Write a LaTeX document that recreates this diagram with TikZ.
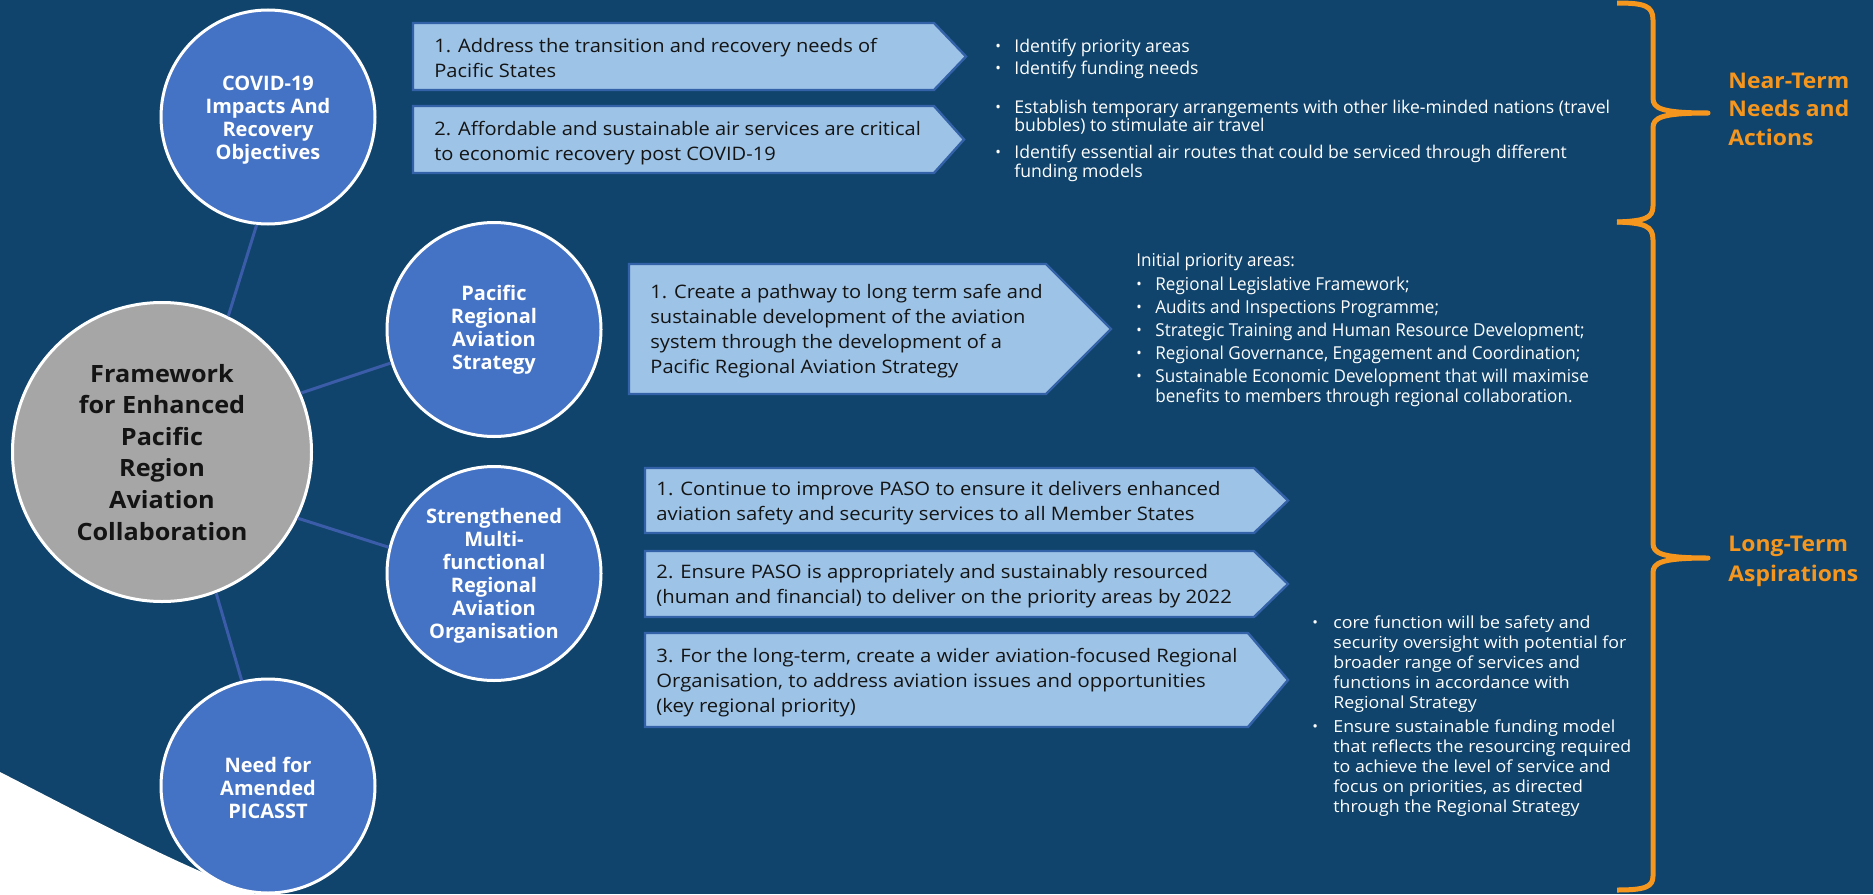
\documentclass[tikz,border=0pt]{standalone}
\usepackage{fontspec}
\setmainfont{Open Sans}
\definecolor{bg}{HTML}{10446C}
\definecolor{circblue}{HTML}{4472C4}
\definecolor{hubgray}{HTML}{A6A6A6}
\definecolor{connblue}{HTML}{3B5CA8}
\definecolor{boxfill}{HTML}{9DC3E6}
\definecolor{boxedge}{HTML}{3462A8}
\definecolor{accent}{HTML}{F5961F}
\definecolor{ink}{HTML}{141414}
\newcommand\txtblock[2]{\begin{tabular}[t]{@{}#1@{}}#2\end{tabular}}
\newcommand\bul[1][9.5pt]{\makebox[#1][l]{\raisebox{0.1ex}{\scalebox{0.85}{\textbullet}}}}
\newcommand\setfont[3]{\fontsize{#1}{#2}\selectfont\addfontfeature{FakeStretch=#3}}
\begin{document}
\begin{tikzpicture}[x=0.5pt,y=-0.5pt,
  circ/.style={circle, draw=white, line width=1.5pt, fill=circblue, inner sep=0pt, minimum size=107pt},
  hub/.style={circ, fill=hubgray, minimum size=149.5pt},
  conn/.style={draw=connblue, line width=1.5pt},
  chev/.style={fill=boxfill, draw=boxedge, line width=1.2pt, line join=miter},
  brace/.style={draw=accent, line width=2.5pt, line join=round, line cap=butt},
  ctext/.style={anchor=base, inner sep=0pt, text=white, font=\bfseries\setfont{10}{11.5}{1.0}},
  boxtext/.style={anchor=base west, inner sep=0pt, text=ink, font=\setfont{9.3}{12.9}{1.08}},
  listtext/.style={anchor=base west, inner sep=0pt, text=white},
  sidetext/.style={anchor=base west, inner sep=0pt, text=accent, font=\bfseries\setfont{10.8}{14.4}{1.06}}]

% canvas
\useasboundingbox (0,0) rectangle (1873,894);
\fill[bg] (0,0) rectangle (1873,894);
\fill[white] (0,772) .. controls (90,818) and (175,864) .. (256,894) -- (0,894) -- cycle;

% circles
\node[hub]  (hub)  at (162,452) {};
\node[circ] (covid) at (268,117) {};
\node[circ] (pras)  at (494,329.5) {};
\node[circ] (rao)   at (494,573.5) {};
\node[circ] (need)  at (268,786) {};

% spokes
\draw[conn] (hub.64)  -- (covid.264);
\draw[conn] (hub.23)  -- (pras.198);
\draw[conn] (hub.-26) -- (rao.166);
\draw[conn] (hub.-69) -- (need.104);

% circle captions
\node[anchor=base, inner sep=0pt, text=ink, font=\bfseries\setfont{11.9}{15.8}{1.06}] (hubtxt) at (162,382)
  {\txtblock{c}{Framework\\for Enhanced\\Pacific\\Region\\Aviation\\Collaboration}};
\node[ctext] (covidtxt) at (268,90) {\txtblock{c}{COVID-19\\Impacts And\\Recovery\\Objectives}};
\node[ctext] (prastxt) at (494,300) {\txtblock{c}{Pacific\\Regional\\Aviation\\Strategy}};
\node[ctext] (raotxt) at (494,523) {\txtblock{c}{Strengthened\\Multi-\\functional\\Regional\\Aviation\\Organisation}};
\node[ctext] (needtxt) at (268,772) {\txtblock{c}{Need for\\Amended\\PICASST}};

% arrow boxes
\draw[chev] (413,23) -- (934,23) -- (966,56.5) -- (934,90) -- (413,90) -- cycle;
\draw[chev] (413,106) -- (934,106) -- (964,139.5) -- (934,173) -- (413,173) -- cycle;
\draw[chev] (629,264) -- (1046,264) -- (1111,329) -- (1046,394) -- (629,394) -- cycle;
\draw[chev] (645,468) -- (1254,468) -- (1288,500.5) -- (1254,533) -- (645,533) -- cycle;
\draw[chev] (645,551) -- (1254,551) -- (1288,584) -- (1254,617) -- (645,617) -- cycle;
\draw[chev] (645,633) -- (1248,633) -- (1288,680) -- (1248,727) -- (645,727) -- cycle;

\node[boxtext] (b1) at (434,52) {\txtblock{l}{1. Address the transition and recovery needs of\\Pacific States}};
\node[boxtext] (b2) at (434,135) {\txtblock{l}{2. Affordable and sustainable air services are critical\\to economic recovery post COVID-19}};
\node[boxtext, font=\setfont{9.3}{12.5}{1.08}] (b3) at (650,298) {\txtblock{l}{1. Create a pathway to long term safe and\\sustainable development of the aviation\\system through the development of a\\Pacific Regional Aviation Strategy}};
\node[boxtext, font=\setfont{9.3}{12.6}{1.09}] (b4) at (656,495) {\txtblock{l}{1. Continue to improve PASO to ensure it delivers enhanced\\aviation safety and security services to all Member States}};
\node[boxtext, font=\setfont{9.3}{12.9}{1.09}] (b5) at (656,578) {\txtblock{l}{2. Ensure PASO is appropriately and sustainably resourced\\(human and financial) to deliver on the priority areas by 2022}};
\node[boxtext, font=\setfont{9.3}{12.6}{1.09}] (b6) at (656,662) {\txtblock{l}{3. For the long-term, create a wider aviation-focused Regional\\Organisation, to address aviation issues and opportunities\\(key regional priority)}};

% bullet lists
\node[listtext, font=\setfont{8.8}{9.25}{1.0}] (l1) at (995,52)
  {\txtblock{l@{}l}{\bul & Identify priority areas\\[1.75pt]\bul & Identify funding needs}};
\node[listtext, font=\setfont{8.8}{9.25}{1.0}] (l2) at (995,113)
  {\txtblock{l@{}l}{\bul & Establish temporary arrangements with other like-minded nations (travel\\
   & bubbles) to stimulate air travel\\[3.75pt]
   \bul & Identify essential air routes that could be serviced through different\\
   & funding models}};
\node[listtext, font=\setfont{8.9}{10}{0.96}] (l3) at (1136,266)
  {\txtblock{l@{}l}{\multicolumn{2}{@{}l@{}}{Initial priority areas:}\\[2pt]
   \bul[9.5pt] & Regional Legislative Framework;\\[1.5pt]
   \bul[9.5pt] & Audits and Inspections Programme;\\[1.5pt]
   \bul[9.5pt] & Strategic Training and Human Resource Development;\\[1.5pt]
   \bul[9.5pt] & Regional Governance, Engagement and Coordination;\\[1.5pt]
   \bul[9.5pt] & Sustainable Economic Development that will maximise\\
   & benefits to members through regional collaboration.}};
\node[listtext, font=\setfont{8.3}{10}{1.07}] (l4) at (1312,628)
  {\txtblock{l@{}l}{\bul[10.5pt] & core function will be safety and\\
   & security oversight with potential for\\
   & broader range of services and\\
   & functions in accordance with\\
   & Regional Strategy\\[2pt]
   \bul[10.5pt] & Ensure sustainable funding model\\
   & that reflects the resourcing required\\
   & to achieve the level of service and\\
   & focus on priorities, as directed\\
   & through the Regional Strategy}};

% braces
\draw[brace] (1617,3) .. controls (1645,3) and (1653,6) .. (1653,20) -- (1653,98)
  .. controls (1653,108) and (1660,113) .. (1708,113)
  .. controls (1660,113) and (1653,118) .. (1653,128) -- (1653,206)
  .. controls (1653,218) and (1645,221) .. (1617,222);
\draw[brace] (1617,222) .. controls (1645,223) and (1653,226) .. (1653,240) -- (1653,543)
  .. controls (1653,553) and (1660,558) .. (1708,558)
  .. controls (1660,558) and (1653,563) .. (1653,573) -- (1653,876)
  .. controls (1653,887) and (1645,890) .. (1617,890);

\node[sidetext] (near) at (1728,88) {\txtblock{l}{Near-Term\\Needs and\\Actions}};
\node[sidetext, font=\bfseries\setfont{10.8}{15}{1.06}] (long) at (1728,551) {\txtblock{l}{Long-Term\\Aspirations}};
\end{tikzpicture}
\end{document}
